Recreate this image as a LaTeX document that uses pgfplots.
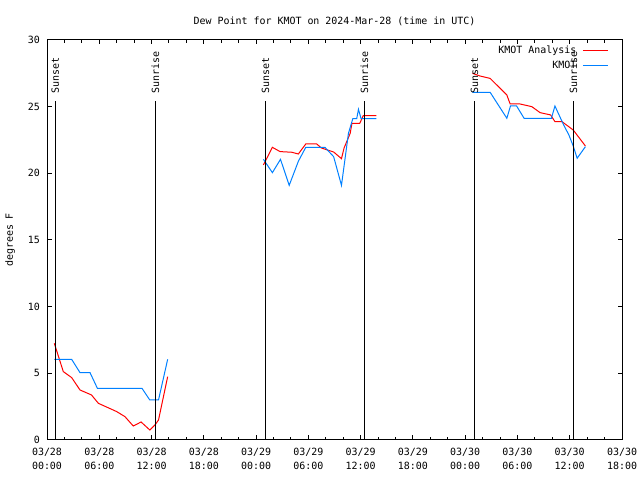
\documentclass[border=0pt]{standalone}
\usepackage{fontspec}
\setmainfont{DejaVu Sans Mono}
\usepackage{pgfplots}
\pgfplotsset{compat=1.18}
\definecolor{kred}{RGB}{255,0,0}
\definecolor{kblue}{RGB}{0,128,255}
\begin{document}
\begin{tikzpicture}[x=1bp,y=1bp]
\path[use as bounding box] (0,0) rectangle (640,480);
\begin{axis}[
  at={(47bp,40bp)}, anchor=south west,
  scale only axis, width=575bp, height=400bp,
  xmin=0, xmax=66, ymin=0, ymax=30,
  xtick={0,6,...,66},
  xticklabels={03/28\\00:00,03/28\\06:00,03/28\\12:00,03/28\\18:00,03/29\\00:00,03/29\\06:00,03/29\\12:00,03/29\\18:00,03/30\\00:00,03/30\\06:00,03/30\\12:00,03/30\\18:00},
  xticklabel style={align=center, inner sep=0pt, yshift=-7.5bp, font=\fontsize{10}{14.5}\selectfont},
  minor x tick num=2,
  ytick={0,5,...,30},
  yticklabel style={inner sep=0pt, xshift=-7bp},
  tick align=inside,
  major tick length=4.5bp, minor tick length=3bp,
  every tick/.style={black, line width=1bp},
  axis line style={line width=1bp},
  title={Dew Point for KMOT on 2024-Mar-28 (time in UTC)},
  title style={at={(0.5,1)}, anchor=south, inner sep=0pt, yshift=8bp},
  ylabel={degrees F},
  every axis y label/.style={at={(axis description cs:-0.064,0.5)}, rotate=90, anchor=center},
  unbounded coords=jump,
  /pgf/number format/assume math mode=true,
  legend plot pos=right,
  legend cell align=right,
  legend style={at={(rel axis cs:1,1)}, anchor=north east, draw=none, fill=none, inner sep=0pt, xshift=-13bp, yshift=-3.5bp, row sep=2bp, column sep=4bp},
  legend image post style={xscale=1.5},
]
\addplot[color=kred, draw=kred, line width=1bp, legend image post style={draw=kred}] coordinates {
(0.84,7.25) (1.87,5.13) (2.83,4.68) (3.79,3.75) (5.1,3.38) (5.9,2.75) (8.0,2.13) (8.95,1.75) (9.9,1.05) (10.8,1.35) (11.8,0.75) (12.4,1.13) (12.8,1.5) (13.85,4.75)
(14.5,nan)
(24.84,20.63) (25.87,21.95) (26.75,21.63) (28.1,21.58) (28.85,21.45) (29.7,22.2) (30.96,22.2) (31.5,21.9) (32.9,21.6) (33.8,21.1) (34.1,21.9) (34.8,23.0) (35.0,23.75) (35.9,23.75) (36.3,24.33) (37.8,24.33)
(40,nan)
(48.83,27.5) (49.7,27.3) (50.86,27.12) (52.78,25.88) (53.16,25.2) (54.3,25.2) (55.65,25.0) (56.6,24.55) (57.8,24.38) (58.3,23.88) (59.1,23.88) (60.4,23.25) (61.8,22.05)
};
\addlegendentry{KMOT Analysis}
\addplot[color=kblue, draw=kblue, line width=1bp, legend image post style={draw=kblue}] coordinates {
(0.84,6.05) (2.83,6.05) (3.79,5.05) (4.94,5.05) (5.78,3.88) (10.9,3.88) (11.8,3.0) (12.8,3.0) (13.85,6.05)
(14.5,nan)
(24.84,21.05) (25.87,20.05) (26.8,21.05) (27.8,19.1) (28.85,20.9) (29.7,21.95) (31.9,21.95) (32.9,21.25) (33.8,19.1) (34.6,23.0) (35.1,24.1) (35.55,24.1) (35.75,24.8) (36.05,24.1) (37.8,24.1)
(40,nan)
(48.83,26.08) (50.86,26.08) (52.78,24.13) (53.2,25.05) (53.9,25.05) (54.76,24.13) (57.9,24.13) (58.3,25.05) (59.3,23.63) (59.9,22.88) (60.4,22.05) (60.85,21.13) (61.8,22.0)
};
\addlegendentry{KMOT}
\addplot[black, line width=1bp, forget plot] coordinates {(0.95,0) (0.95,25.4)};
\addplot[black, line width=1bp, forget plot] coordinates {(12.43,0) (12.43,25.4)};
\addplot[black, line width=1bp, forget plot] coordinates {(25.07,0) (25.07,25.4)};
\addplot[black, line width=1bp, forget plot] coordinates {(36.43,0) (36.43,25.4)};
\addplot[black, line width=1bp, forget plot] coordinates {(49.06,0) (49.06,25.4)};
\addplot[black, line width=1bp, forget plot] coordinates {(60.43,0) (60.43,25.4)};
\node[rotate=90, anchor=west, inner sep=0pt] at (axis cs:0.95,26.0) {Sunset};
\node[rotate=90, anchor=west, inner sep=0pt] at (axis cs:12.43,26.0) {Sunrise};
\node[rotate=90, anchor=west, inner sep=0pt] at (axis cs:25.07,26.0) {Sunset};
\node[rotate=90, anchor=west, inner sep=0pt] at (axis cs:36.43,26.0) {Sunrise};
\node[rotate=90, anchor=west, inner sep=0pt] at (axis cs:49.06,26.0) {Sunset};
\node[rotate=90, anchor=west, inner sep=0pt] at (axis cs:60.43,26.0) {Sunrise};
\end{axis}
\end{tikzpicture}
\end{document}
